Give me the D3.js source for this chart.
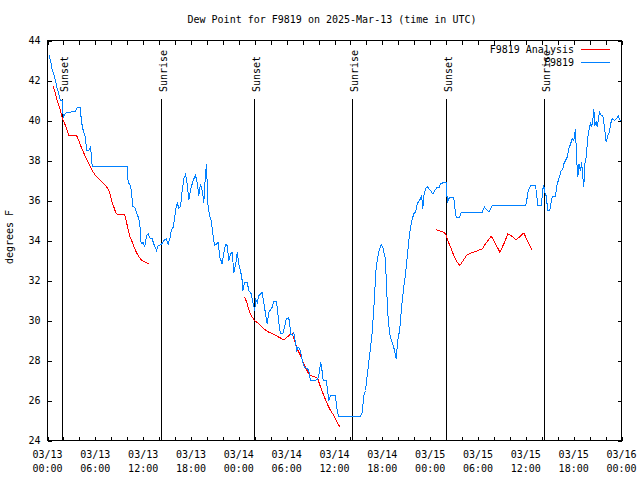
<!DOCTYPE html>
<html><head><meta charset="utf-8">
<script src="https://cdn.jsdelivr.net/npm/d3@7/dist/d3.min.js"></script>
<style>
body{margin:0;background:#fff;}
svg{display:block;}
text{font-family:"DejaVu Sans Mono",monospace;font-size:10px;fill:#000;}
</style></head><body>
<svg id="chart" width="640" height="480"></svg>
<script>
// ---------- DATA (hours since 2025-03-13 00:00 UTC, dew point °F) ----------
const titleText = "Dew Point for F9819 on 2025-Mar-13 (time in UTC)";
const yLabel = "degrees F";
const seriesNames = ["F9819 Analysis", "F9819"];
const yTicks = [24, 26, 28, 30, 32, 34, 36, 38, 40, 42, 44];
const xTickHours = [0, 6, 12, 18, 24, 30, 36, 42, 48, 54, 60, 66, 72];
const xTickLabels = ["03/13 00:00","03/13 06:00","03/13 12:00","03/13 18:00","03/14 00:00","03/14 06:00","03/14 12:00","03/14 18:00","03/15 00:00","03/15 06:00","03/15 12:00","03/15 18:00","03/16 00:00"];
const sunEvents = [[1.88,"Sunset"],[14.30,"Sunrise"],[25.97,"Sunset"],[38.26,"Sunrise"],[50.05,"Sunset"],[62.34,"Sunrise"]];

const analysisSeg1 = [[0.67,41.75],[0.88,41.5],[1.09,41.17],[1.29,40.92],[1.51,40.67],[1.72,40.33],[1.92,40.03],[2.26,39.75],[2.47,39.5],[2.67,39.25],[3.64,39.25],[3.93,39.0],[4.14,38.75],[4.43,38.5],[4.68,38.25],[4.98,38.0],[5.31,37.75],[5.61,37.5],[6.02,37.25],[6.65,37.0],[7.28,36.75],[7.69,36.53],[7.9,36.25],[8.03,36.0],[8.32,35.67],[8.62,35.33],[9.16,35.3],[9.7,35.28],[10.0,34.75],[10.29,34.25],[10.63,33.92],[10.95,33.58],[11.25,33.33],[11.58,33.12],[11.88,33.0],[12.29,32.92],[12.71,32.83]];
const analysisSeg2 = [[24.75,31.17],[25.05,30.83],[25.34,30.42],[25.68,30.17],[25.97,30.0],[26.51,29.83],[27.13,29.58],[27.76,29.42],[28.39,29.3],[29.01,29.17],[29.64,29.03],[30.07,29.17],[30.39,29.28],[30.7,29.33],[30.9,29.08],[31.32,28.58],[31.74,28.25],[32.24,27.75],[32.65,27.42],[32.99,27.25],[33.62,27.17],[33.91,27.08],[34.25,26.67],[34.66,26.25],[35.09,25.83],[35.5,25.5],[35.91,25.25],[36.34,24.92],[36.67,24.67]];
const analysisSeg3 = [[48.76,34.53],[49.09,34.5],[49.64,34.42],[49.93,34.33],[50.21,34.0],[50.55,33.67],[50.97,33.25],[51.39,32.92],[51.72,32.75],[52.15,33.0],[52.56,33.25],[53.06,33.37],[53.81,33.47],[54.53,33.58],[54.94,33.83],[55.66,34.22],[56.2,33.83],[56.74,33.42],[57.24,33.83],[57.74,34.33],[58.29,34.2],[58.79,34.03],[59.33,34.22],[59.75,34.38],[60.17,34.0],[60.8,33.5]];

const stationObs = [[0.16,43.3],[0.38,43.0],[0.59,42.53],[0.79,42.33],[1.0,42.0],[1.22,41.58],[1.42,41.33],[1.63,41.0],[1.82,41.0],[1.97,40.17],[2.26,40.35],[2.47,40.4],[3.51,40.45],[3.73,40.67],[4.14,40.67],[4.23,40.0],[4.48,39.5],[4.77,39.17],[4.89,38.5],[5.18,38.5],[5.39,38.67],[5.48,38.35],[5.61,37.7],[10.0,37.7],[10.12,36.9],[10.41,36.75],[10.54,36.4],[10.7,35.7],[10.95,35.65],[11.16,35.4],[11.38,35.17],[11.58,34.83],[11.67,34.17],[11.75,33.83],[12.0,33.9],[12.2,33.67],[12.42,34.25],[12.63,34.33],[12.83,34.13],[13.13,34.08],[13.33,33.83],[13.67,33.5],[13.89,33.75],[14.3,33.8],[14.59,34.0],[14.89,34.08],[15.14,33.83],[15.34,34.08],[15.52,34.5],[15.77,34.67],[15.93,35.08],[16.06,35.5],[16.27,35.87],[16.47,35.63],[16.68,35.7],[16.9,36.5],[17.1,37.08],[17.31,37.3],[17.52,36.83],[17.72,36.03],[17.94,36.53],[18.15,36.83],[18.35,37.08],[18.57,37.25],[18.78,36.9],[18.98,36.25],[19.19,36.83],[19.41,36.5],[19.61,35.9],[19.82,37.33],[19.95,37.83],[20.11,35.83],[20.32,35.25],[20.53,35.0],[20.74,34.33],[20.95,33.75],[21.2,33.83],[21.41,33.9],[21.61,33.17],[21.91,32.83],[22.12,33.4],[22.33,33.8],[22.54,33.75],[22.74,33.0],[22.96,33.33],[23.17,33.4],[23.37,32.4],[23.58,32.75],[23.8,33.4],[24.0,32.83],[24.21,32.5],[24.42,32.0],[24.5,31.5],[24.71,31.9],[25.05,31.9],[25.25,31.5],[25.55,31.33],[25.8,30.83],[26.0,30.5],[26.09,31.08],[26.31,30.9],[26.51,31.25],[26.93,31.4],[27.13,30.9],[27.35,30.33],[27.56,29.83],[27.76,30.4],[28.19,30.67],[28.39,30.97],[28.69,30.97],[28.81,30.67],[29.01,29.9],[29.23,29.33],[29.52,29.33],[29.73,29.67],[29.94,30.08],[30.19,30.13],[30.36,30.0],[30.48,29.33],[30.7,29.25],[30.9,29.38],[31.11,28.9],[31.24,28.5],[31.45,28.67],[31.65,28.58],[31.83,28.25],[32.08,27.83],[32.24,27.67],[32.58,27.58],[32.78,27.5],[32.99,27.0],[33.62,27.0],[33.91,27.08],[34.12,27.42],[34.25,27.92],[34.41,27.58],[34.58,27.0],[34.96,27.0],[35.09,26.67],[35.29,26.0],[35.5,26.25],[36.13,26.25],[36.25,25.67],[36.42,25.37],[36.54,25.2],[39.26,25.2],[39.48,25.42],[39.68,26.25],[39.89,26.5],[40.1,27.25],[40.3,27.92],[40.52,28.67],[40.73,29.42],[40.93,30.6],[41.06,31.5],[41.23,32.67],[41.43,33.17],[41.65,33.58],[41.86,33.78],[42.06,33.67],[42.27,33.25],[42.4,33.08],[42.49,32.0],[42.61,31.0],[42.74,30.0],[42.94,29.33],[43.15,29.0],[43.37,28.75],[43.53,28.5],[43.72,28.1],[43.94,29.0],[44.16,29.5],[44.28,30.0],[44.41,30.67],[44.57,31.25],[44.69,31.67],[44.91,32.33],[45.12,33.17],[45.32,34.0],[45.54,34.67],[45.75,35.08],[45.95,35.33],[46.16,35.42],[46.38,35.83],[46.58,35.97],[46.79,36.08],[46.92,36.25],[47.08,35.58],[47.2,36.25],[47.42,36.58],[47.63,36.7],[47.83,36.6],[48.04,36.5],[48.33,36.33],[48.58,36.5],[48.8,36.63],[49.09,36.63],[49.3,36.83],[49.59,36.88],[50.05,36.9],[50.14,35.9],[50.34,36.08],[50.55,36.17],[50.93,36.17],[51.05,35.9],[51.18,35.25],[51.39,35.13],[51.68,35.13],[51.89,35.42],[53.48,35.42],[54.53,35.42],[54.82,35.67],[55.16,35.5],[55.44,35.45],[55.78,35.75],[57.87,35.75],[59.96,35.75],[60.09,35.92],[60.25,36.42],[60.59,36.75],[61.22,36.75],[61.34,36.33],[61.5,35.75],[61.97,35.75],[62.09,36.5],[62.26,36.75],[62.38,36.42],[62.6,36.17],[62.72,35.5],[63.01,35.5],[63.18,35.92],[63.31,36.2],[63.72,36.2],[63.85,36.67],[64.01,36.92],[64.14,37.08],[64.44,37.5],[64.64,37.58],[64.77,37.83],[64.98,38.0],[65.19,38.17],[65.39,38.58],[65.61,38.83],[65.82,39.08],[66.02,39.0],[66.23,39.58],[66.36,38.17],[66.52,37.17],[66.65,37.83],[66.86,37.5],[66.99,37.92],[67.15,37.17],[67.27,36.67],[67.4,37.83],[67.58,38.17],[67.7,38.83],[67.83,39.33],[67.99,39.67],[68.11,39.83],[68.24,39.67],[68.4,40.0],[68.53,40.58],[68.65,39.75],[68.83,39.92],[68.96,39.67],[69.24,40.42],[69.46,40.25],[69.66,40.25],[69.87,39.67],[70.08,38.92],[70.28,39.25],[70.5,39.42],[70.62,39.83],[70.84,40.08],[71.12,40.0],[71.46,40.13],[71.59,40.25],[71.75,40.03],[71.88,40.0]];

const colors = {analysis:"#ff0000", station:"#0080ff"};

// ---------- DRAW ----------
const svg = d3.select("#chart");
const L = 47.5, R = 621.5, T = 40.5, B = 440.5;
const x = d3.scaleLinear().domain([0, 72]).range([L, R]);
const y = d3.scaleLinear().domain([24, 44]).range([B, T]);

// title
svg.append("text").attr("x", 332).attr("y", 23).attr("text-anchor", "middle").text(titleText);
// y label
svg.append("text").attr("transform", "translate(13,237) rotate(-90)").attr("text-anchor", "middle").text(yLabel);

const fixAxis = g => { g.select(".domain").remove(); g.attr("font-family", null).attr("font-size", null); g.selectAll("line").attr("stroke", "#000").attr("shape-rendering", "crispEdges"); };

// bottom axis
const gx = svg.append("g").attr("transform", `translate(0,${B})`)
  .call(d3.axisBottom(x).tickValues(d3.range(0, 73, 2)).tickSizeInner(-4).tickSizeOuter(0).tickFormat(() => ""))
  .call(fixAxis);
gx.selectAll("text").remove();
// x tick labels (two lines)
const xl = svg.append("g");
xTickHours.forEach((h, i) => {
  const parts = xTickLabels[i].split(" ");
  const t = xl.append("text").attr("x", x(h)).attr("text-anchor", "middle");
  t.append("tspan").attr("x", x(h)).attr("y", 457.5).text(parts[0]);
  t.append("tspan").attr("x", x(h)).attr("y", 471.5).text(parts[1]);
});
// top axis (mirror)
svg.append("g").attr("transform", `translate(0,${T})`)
  .call(d3.axisTop(x).tickValues(d3.range(0, 73, 2)).tickSizeInner(-4).tickSizeOuter(0).tickFormat(() => ""))
  .call(fixAxis).selectAll("text").remove();
// left axis
svg.append("g").attr("transform", `translate(${L},0)`)
  .call(d3.axisLeft(y).tickValues(yTicks).tickSizeInner(-4).tickSizeOuter(0).tickPadding(7).tickFormat(d3.format("d")))
  .call(fixAxis);
// right axis (mirror)
svg.append("g").attr("transform", `translate(${R},0)`)
  .call(d3.axisRight(y).tickValues(yTicks).tickSizeInner(-4).tickSizeOuter(0).tickFormat(() => ""))
  .call(fixAxis).selectAll("text").remove();

// border
svg.append("rect").attr("x", L).attr("y", T).attr("width", R - L).attr("height", B - T)
  .attr("fill", "none").attr("stroke", "#000").attr("shape-rendering", "crispEdges");

// sunrise / sunset lines and labels
const sun = svg.append("g");
sunEvents.forEach(([h, name]) => {
  const px = Math.floor(x(h)) + 0.5;
  sun.append("line").attr("x1", px).attr("x2", px).attr("y1", 99).attr("y2", B)
    .attr("stroke", "#000").attr("shape-rendering", "crispEdges");
  sun.append("text").attr("transform", `translate(${px + 5},92) rotate(-90)`).attr("text-anchor", "start").text(name);
});

// data lines
const line = d3.line().x(d => x(d[0])).y(d => y(d[1]));
const plot = svg.append("g");
[analysisSeg1, analysisSeg2, analysisSeg3].forEach(seg => {
  plot.append("path").datum(seg).attr("d", line).attr("fill", "none")
    .attr("stroke", colors.analysis).attr("stroke-width", 1).attr("shape-rendering", "crispEdges");
});
plot.append("path").datum(stationObs).attr("d", line).attr("fill", "none")
  .attr("stroke", colors.station).attr("stroke-width", 1).attr("shape-rendering", "crispEdges");

// legend
const leg = svg.append("g");
[[seriesNames[0], colors.analysis, 49.5], [seriesNames[1], colors.station, 62.5]].forEach(([name, c, ly]) => {
  leg.append("text").attr("x", 574).attr("y", ly + 3.5).attr("text-anchor", "end").text(name);
  leg.append("line").attr("x1", 581).attr("x2", 610).attr("y1", ly).attr("y2", ly)
    .attr("stroke", c).attr("shape-rendering", "crispEdges");
});
</script></body></html>
